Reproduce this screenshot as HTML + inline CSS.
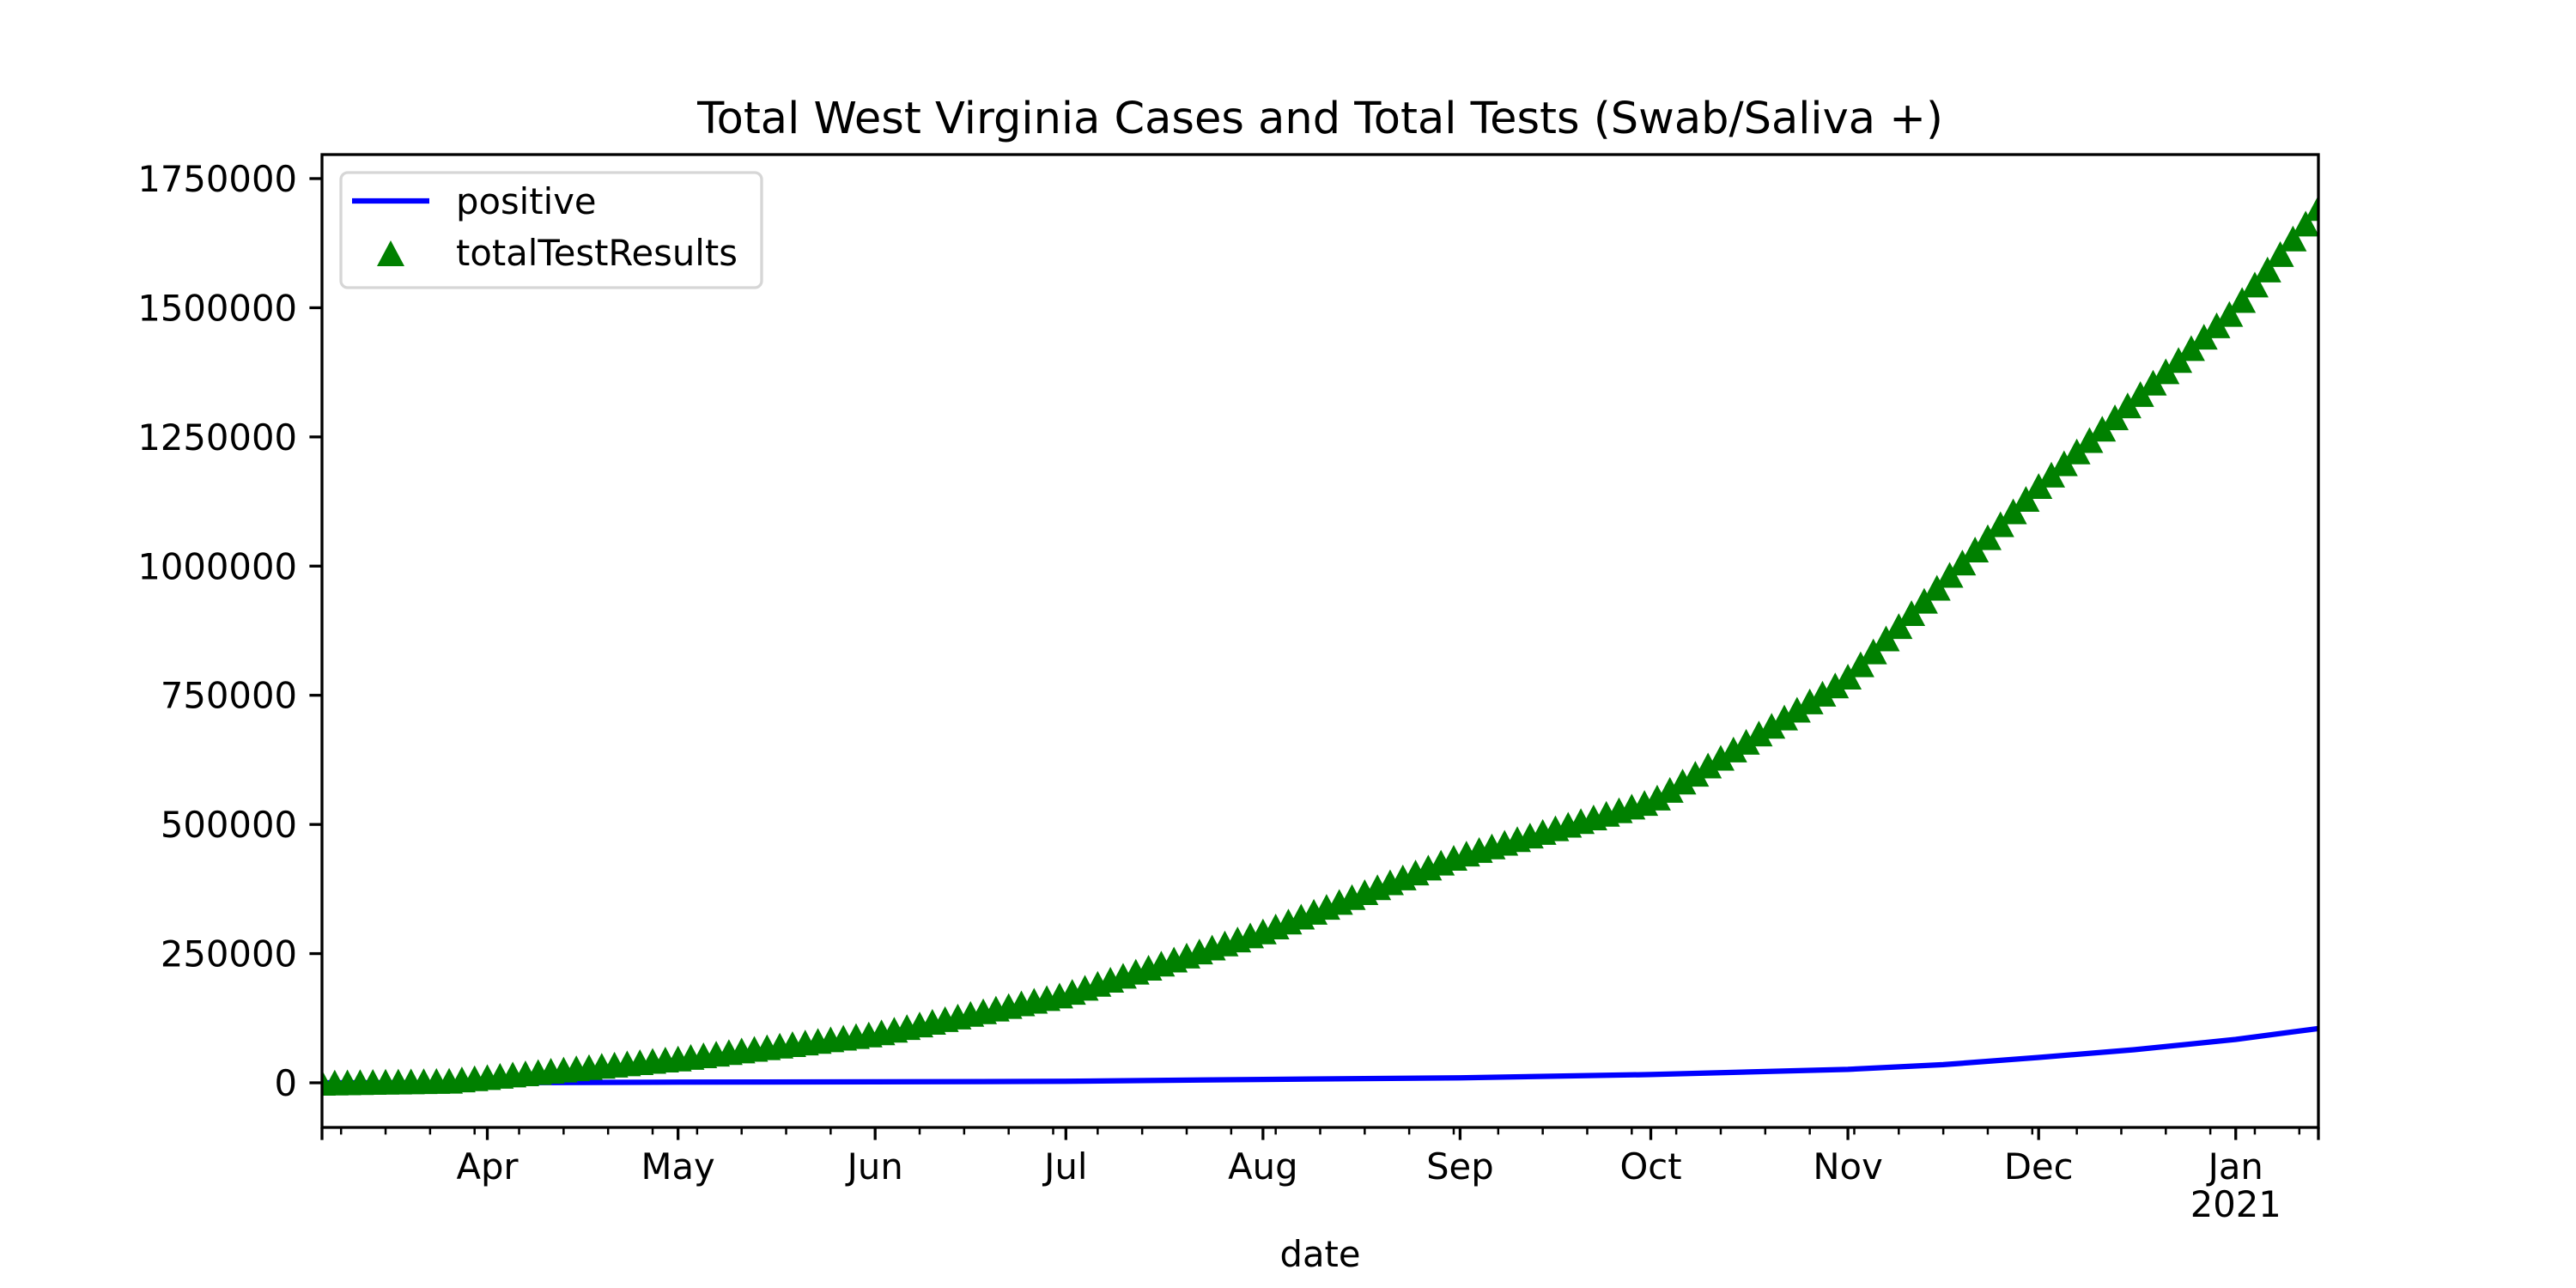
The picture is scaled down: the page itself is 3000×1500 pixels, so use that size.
<!DOCTYPE html>
<html><head><meta charset="utf-8"><style>
html,body{margin:0;padding:0;background:#fff;}
svg{display:block;font-family:"DejaVu Sans","Liberation Sans",sans-serif;}
</style></head><body>
<svg id="chart" width="3000" height="1500" viewBox="0 0 3000 1500" xmlns="http://www.w3.org/2000/svg">
<rect width="3000" height="1500" fill="#fff"/>
<text x="1537.5" y="155" font-size="51" text-anchor="middle">Total West Virginia Cases and Total Tests (Swab/Saliva +)</text>
<g id="plot"></g>
<g id="axes"></g>
<text x="1537.5" y="1475" font-size="41.7" text-anchor="middle">date</text>
</svg>
<script>
// days since 2020-03-06, every 2 days
const testDays = [];
for (let i = 0; i <= 314; i += 2) testDays.push(i);
// totalTestResults in thousands
const testValues = [0,0.4,0.8,1.2,1.6,2,2.4,2.8,3.2,3.6,4,6.4,8.8,11,13.6,16,18.4,20.8,23.2,25.6,28,30.4,32.8,35.2,37.6,40,42.4,44.8,47,
50.1,53.2,56.3,59.4,62.5,65.6,68.7,71.8,74.9,78,81.1,84.2,87.3,90.4,93.5,97.6,
102.7,107.8,112.9,118,123.1,128.2,133.3,138.4,143.5,148.6,153.7,158.8,163.9,169,
176,183.8,191.6,199.4,207.2,215,222.8,230.6,238.4,246.2,254,261.8,269.6,277.4,285.2,293,
302.5,312,321.5,331,340.5,350,359.5,369,378.5,388,397.5,407,416.5,426,435.5,
443.5,450.5,457.5,464.5,471.5,478.5,485.5,492.5,499.5,506.5,513.5,520.5,527.5,534.5,541.5,
552,567,583,598,614,629,645,660,676,691,707,722,738,753,769,786,
810,835,860,884,909,933,958,983,1007,1032,1056,1081,1106,1130,1155,
1177,1199,1222,1244,1266,1288,1311,1333,1355,1377,1399,1422,1444,1466,1488,
1515,1545,1574,1604,1634,1663,1693];
const posDays = [0,26,56,87,117,148,179,209,240,255,270,285,301,314];
const posValues = [0,0.2,1.1,1.9,2.9,6.5,9.6,16,26,35,49,64,84,105]; // thousands
const yTicks = [0,250000,500000,750000,1000000,1250000,1500000,1750000];
const monthDays = [26,56,87,117,148,179,209,240,270,301];
const monthLabels = ["Apr","May","Jun","Jul","Aug","Sep","Oct","Nov","Dec","Jan"];

const L=375,R=2700,T=180,B=1313, xMin=0,xMax=314, yMin=-86400,yMax=1796500;
const X=d=>L+(d-xMin)/(xMax-xMin)*(R-L);
const Y=v=>B-(v-yMin)/(yMax-yMin)*(B-T);
const NS="http://www.w3.org/2000/svg";
function mk(tag,attrs,parent){const e=document.createElementNS(NS,tag);for(const k in attrs)e.setAttribute(k,attrs[k]);parent.appendChild(e);return e;}
const plot=document.getElementById('plot'), axes=document.getElementById('axes');
const clip=mk('clipPath',{id:'cp'},plot); mk('rect',{x:L,y:T,width:R-L,height:B-T},clip);
const g=mk('g',{'clip-path':'url(#cp)'},plot);
// positive line
let d='';posDays.forEach((dd,i)=>{d+=(i?'L':'M')+X(dd).toFixed(1)+' '+Y(posValues[i]*1000).toFixed(1);});
const line=mk('path',{d:d,fill:'none',stroke:'#0000ff','stroke-width':6.25,'stroke-linejoin':'round'},g);


// triangles
const sw=16, sh=15;
testDays.forEach((dd,i)=>{const x=X(dd),y=Y(testValues[i]*1000);
 const p=mk('polygon',{points:`${x},${y-sh} ${x-sw},${y+sh} ${x+sw},${y+sh}`,fill:'#008000'},g);
 
 
});
// spines
const frame=mk('rect',{x:L,y:T,width:R-L,height:B-T,fill:'none',stroke:'#000','stroke-width':3.3},axes);


// y ticks
yTicks.forEach(v=>{const y=Y(v);
 mk('line',{x1:L-14.6,x2:L,y1:y,y2:y,stroke:'#000','stroke-width':3.3},axes);
 const t=mk('text',{x:L-29,y:y+15,'font-size':41.7,'text-anchor':'end'},axes);t.textContent=String(v);
 
 
});
// minor weekly ticks (Mondays, first Mar 9 = day 3)
for(let dd=3;dd<=314;dd+=7){const x=X(dd);mk('line',{x1:x,x2:x,y1:B,y2:B+8.3,stroke:'#000','stroke-width':2.5},axes);}
mk('line',{x1:L,x2:L,y1:B,y2:B+14.6,stroke:'#000','stroke-width':3.3},axes);
mk('line',{x1:R,x2:R,y1:B,y2:B+14.6,stroke:'#000','stroke-width':3.3},axes);
monthDays.forEach((dd,i)=>{const x=X(dd);
 mk('line',{x1:x,x2:x,y1:B,y2:B+14.6,stroke:'#000','stroke-width':3.3},axes);
 const t=mk('text',{x:x,y:1373,'font-size':41.7,'text-anchor':'middle'},axes);t.textContent=monthLabels[i];
 
 
});
const yr=mk('text',{x:X(301),y:1417,'font-size':41.7,'text-anchor':'middle'},axes);yr.textContent='2021';


// legend
const lg=mk('g',{},axes);


mk('rect',{x:397,y:201,width:490,height:134,rx:8,fill:'#fff','fill-opacity':0.8,stroke:'#d6d6d6','stroke-width':3.3},lg);
mk('line',{x1:410,x2:500,y1:234,y2:234,stroke:'#0000ff','stroke-width':6.25},lg);
const t1=mk('text',{x:531,y:249,'font-size':41.7},lg);t1.textContent='positive';


mk('polygon',{points:`455,${295-sh} ${455-sw},${295+sh} ${455+sw},${295+sh}`,fill:'#008000'},lg);
const t2=mk('text',{x:531,y:309,'font-size':41.7},lg);t2.textContent='totalTestResults';


</script>
</body></html>
